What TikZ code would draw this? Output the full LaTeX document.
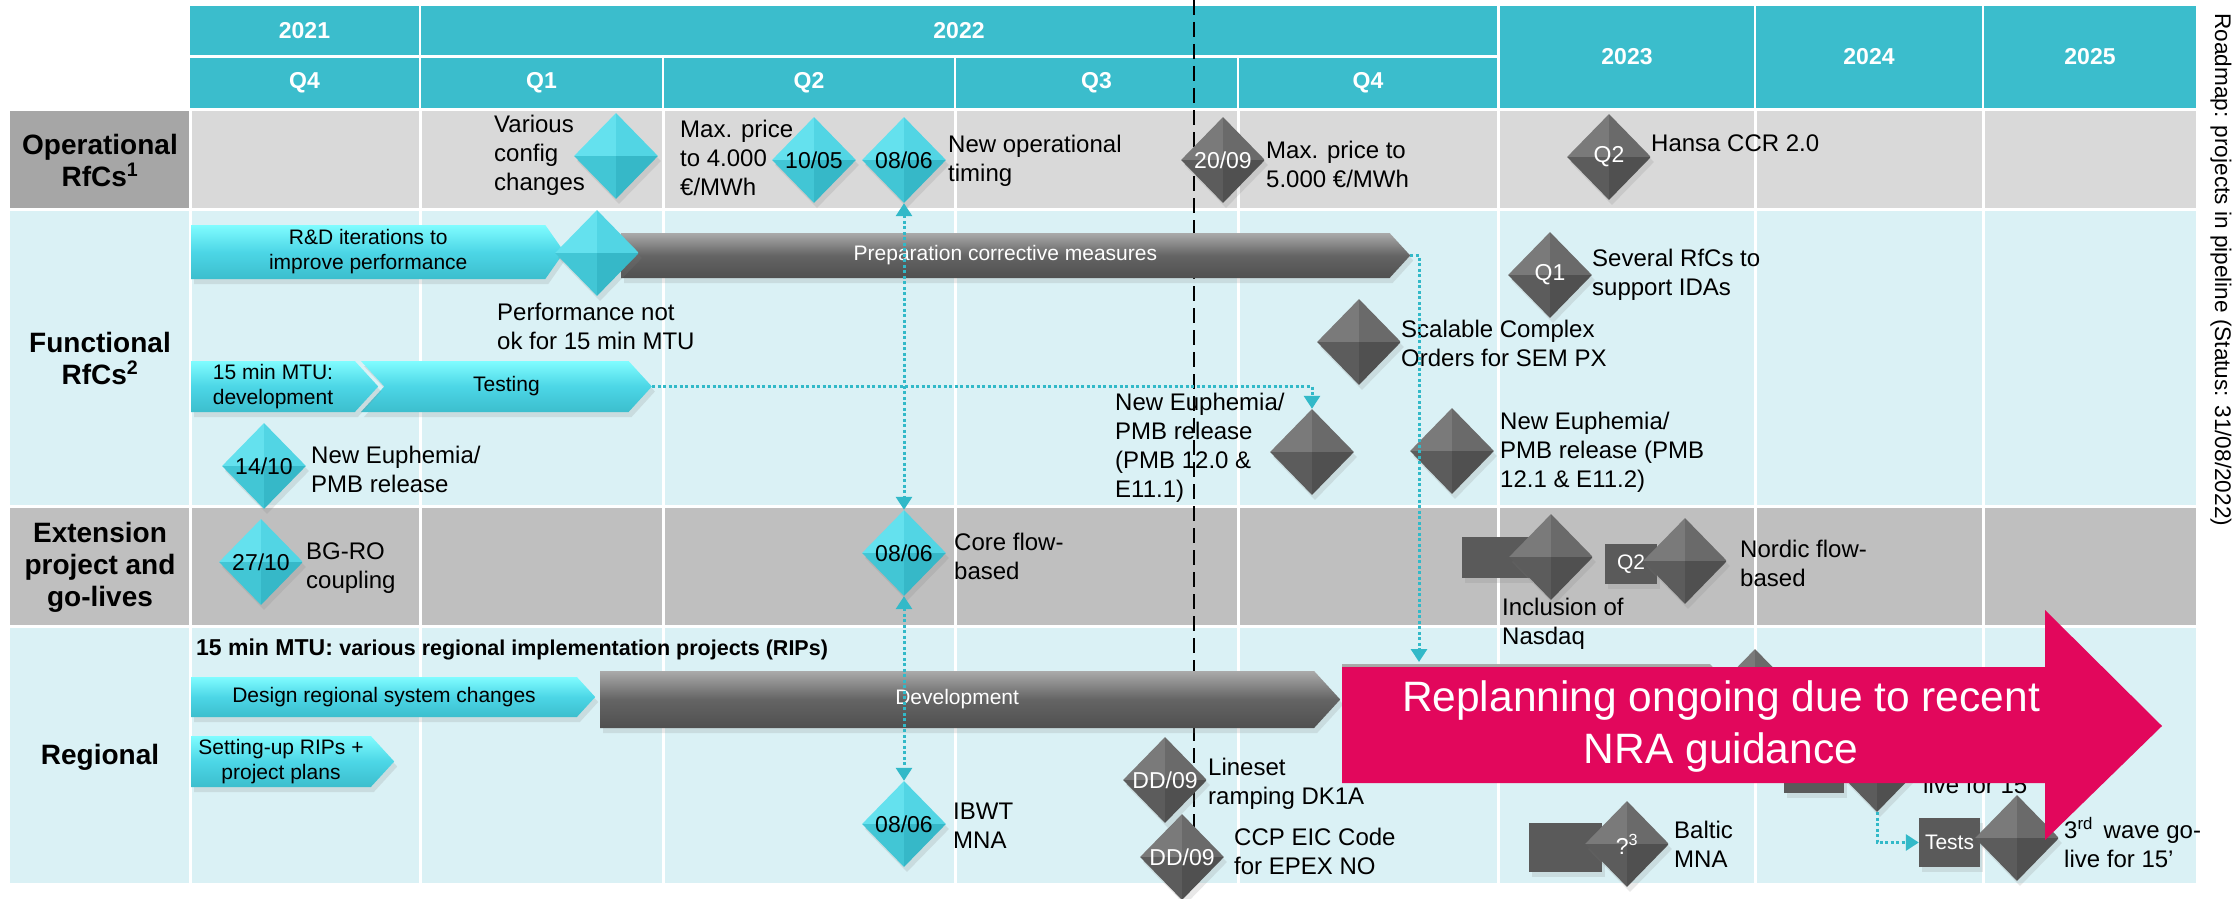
\documentclass[tikz,border=0pt]{standalone}
\usepackage{fontspec}
\setmainfont{Liberation Sans}
\usetikzlibrary{shapes.geometric,shapes.symbols,arrows.meta,shadows}

\definecolor{hdteal}{RGB}{59,189,204}
\definecolor{oprowc}{RGB}{217,217,217}
\definecolor{oplabc}{RGB}{166,166,166}
\definecolor{funrowc}{RGB}{218,241,245}
\definecolor{extrowc}{RGB}{191,191,191}
\definecolor{diacynw}{RGB}{100,225,238}
\definecolor{diacyne}{RGB}{82,213,228}
\definecolor{diacysw}{RGB}{66,198,213}
\definecolor{diacyse}{RGB}{54,184,200}
\definecolor{diagynw}{RGB}{122,122,122}
\definecolor{diagyne}{RGB}{106,106,106}
\definecolor{diagysw}{RGB}{92,92,92}
\definecolor{diagyse}{RGB}{80,80,80}
\definecolor{barcyhi}{RGB}{128,252,255}
\definecolor{barcymid}{RGB}{76,214,230}
\definecolor{barcylo}{RGB}{60,190,205}
\definecolor{bargyhi}{RGB}{170,170,170}
\definecolor{bargymid}{RGB}{100,100,100}
\definecolor{bargylo}{RGB}{80,80,80}
\definecolor{boxgy}{RGB}{90,90,90}
\definecolor{linkcy}{RGB}{50,185,200}
\definecolor{nramag}{RGB}{226,7,92}

\begin{document}
\begin{tikzpicture}[x=1pt,y=-1pt,
  hcell/.style={rectangle,fill=hdteal,text=white,inner sep=0pt,font=\fontsize{23}{27}\selectfont\bfseries},
  rowlbl/.style={align=center,inner sep=0pt,font=\fontsize{28}{32}\selectfont\bfseries},
  lbl/.style={anchor=west,align=left,inner sep=0pt,font=\fontsize{24}{29}\selectfont},
  soft/.style={drop shadow={opacity=0.18,shadow xshift=3pt,shadow yshift=-5pt}},
  dia/.style={diamond,minimum width=84pt,minimum height=86pt,inner sep=0pt,soft,font=\fontsize{23}{23}\selectfont},
  cdia/.style={dia,path picture={
      \fill[diacynw] (path picture bounding box.north west) rectangle (path picture bounding box.center);
      \fill[diacyne] (path picture bounding box.north east) rectangle (path picture bounding box.center);
      \fill[diacysw] (path picture bounding box.south west) rectangle (path picture bounding box.center);
      \fill[diacyse] (path picture bounding box.south east) rectangle (path picture bounding box.center);}},
  gdia/.style={dia,text=white,path picture={
      \fill[diagynw] (path picture bounding box.north west) rectangle (path picture bounding box.center);
      \fill[diagyne] (path picture bounding box.north east) rectangle (path picture bounding box.center);
      \fill[diagysw] (path picture bounding box.south west) rectangle (path picture bounding box.center);
      \fill[diagyse] (path picture bounding box.south east) rectangle (path picture bounding box.center);}},
  bar/.style={signal,signal to=east,signal pointer angle=95,anchor=west,inner sep=0pt,align=center,soft,
    font=\fontsize{21}{25}\selectfont},
  cbar/.style={bar,top color=barcyhi,bottom color=barcylo,middle color=barcymid},
  gbar/.style={bar,text=white,top color=bargyhi,bottom color=bargylo,middle color=bargymid},
  gbox/.style={rectangle,inner sep=0pt,fill=boxgy,soft,text=white,font=\fontsize{21}{21}\selectfont},
  link/.style={draw=linkcy,line width=3pt,dash pattern=on 3pt off 2.5pt,-{Triangle[width=16pt,length=13pt]}},
  link2/.style={link,{Triangle[width=16pt,length=13pt]}-{Triangle[width=16pt,length=13pt]}}]

\useasboundingbox (0,0) rectangle (2236,899);

% rows and grid
\fill[oplabc] (10,111) rectangle (189,208);
\fill[oprowc] (190,111) rectangle (2196,208);
\fill[funrowc] (10,211) rectangle (2196,505);
\fill[extrowc] (10,508) rectangle (2196,625);
\fill[funrowc] (10,628) rectangle (2196,883);
\foreach \gx in {190,420,663,955,1238,1498,1755,1983}
  \draw[white,line width=3pt] (\gx,108) -- (\gx,883);

% header
\node[hcell,minimum width=229pt,minimum height=49pt] (y2021) at (304.5,30.5) {2021};
\node[hcell,minimum width=1076pt,minimum height=49pt] (y2022) at (959,30.5) {2022};
\node[hcell,minimum width=229pt,minimum height=50pt] (q4a) at (304.5,83) {Q4};
\node[hcell,minimum width=241pt,minimum height=50pt] (q1) at (541.5,83) {Q1};
\node[hcell,minimum width=290pt,minimum height=50pt] (q2) at (809,83) {Q2};
\node[hcell,minimum width=281pt,minimum height=50pt] (q3) at (1096.5,83) {Q3};
\node[hcell,minimum width=258pt,minimum height=50pt] (q4b) at (1368,83) {Q4};
\node[hcell,minimum width=254pt,minimum height=102pt] (y2023) at (1627,57) {2023};
\node[hcell,minimum width=226pt,minimum height=102pt] (y2024) at (1869,57) {2024};
\node[hcell,minimum width=212pt,minimum height=102pt] (y2025) at (2090,57) {2025};

\node[rotate=-90,anchor=west,inner sep=0pt,font=\fontsize{22.6}{25}\selectfont] (status) at (2221,13)
  {Roadmap: projects in pipeline (Status: 31/08/2022)};

% row labels
\node[rowlbl] (oplab) at (100,160) {Operational\\RfCs\textsuperscript{1}};
\node[rowlbl] (funlab) at (100,358) {Functional\\RfCs\textsuperscript{2}};
\node[rowlbl] (extlab) at (100,567) {Extension\\project and\\go-lives};
\node[rowlbl] (reglab) at (100,757) {Regional};

% today line
\draw[black,line width=2.5pt,dash pattern=on 15pt off 7pt] (1194,0) -- (1194,887);

% bars
\node[cbar,signal pointer angle=110,minimum width=373pt,minimum height=54pt] (rnd) at (191,252)
  {R\&D iterations to\\improve performance};
\node[gbar,minimum width=789pt,minimum height=45pt] (prep) at (621,255.5) {Preparation corrective measures};
\node[cbar,signal from=west,minimum width=291pt,minimum height=51pt] (tst) at (384,386.5) {Testing};
\node[cbar,minimum width=187pt,minimum height=51pt] (mtu) at (191,386.5) {15 min MTU:\\development};
\node[cbar,minimum width=404pt,minimum height=40pt] (design) at (191,697) {Design regional system changes};
\node[gbar,minimum width=740pt,minimum height=57pt] (dev) at (600,699.5) {Development};
\node[cbar,minimum width=203pt,minimum height=51pt] (setup) at (191,761.5) {Setting-up RIPs +\\project plans};
\node[gbar,minimum width=398pt,minimum height=66pt] (dev2) at (1342,697) {};

% boxes
\node[gbox,minimum width=68pt,minimum height=41pt] (bnasdaq) at (1496,557.5) {};
\node[gbox,minimum width=52pt,minimum height=40pt] (bnordic) at (1631,564) {Q2};
\node[gbox,minimum width=73pt,minimum height=49pt] (bbaltic) at (1565.5,847.5) {};
\node[gbox,minimum width=60pt,minimum height=48pt] (bw2) at (1814,769) {};
\node[gbox,minimum width=61pt,minimum height=49pt] (tests) at (1949.5,842.5) {Tests};

% milestones
\node[cdia] (dvcc) at (616,156) {};
\node[cdia] (d1005) at (814,160) {10/05};
\node[cdia] (d0806a) at (904,160) {08/06};
\node[gdia] (d2009) at (1223,160) {20/09};
\node[gdia] (dhansa) at (1609,157) {Q2};
\node[cdia] (dperf) at (597,253) {};
\node[gdia] (dscal) at (1359,342) {};
\node[gdia] (dida) at (1550,275) {Q1};
\node[gdia] (deu120) at (1312,452) {};
\node[gdia] (deu121) at (1452,451) {};
\node[cdia] (d1410) at (264,466) {14/10};
\node[cdia] (d2710) at (261,562) {27/10};
\node[cdia] (d0806b) at (904,553) {08/06};
\node[gdia] (dnasdaq) at (1551,557) {};
\node[gdia] (dnordic) at (1685,561) {};
\node[cdia] (d0806c) at (904,824) {08/06};
\node[gdia] (ddk1a) at (1165,780) {DD/09};
\node[gdia] (depex) at (1182,857) {DD/09};
\node[gdia] (dbaltic) at (1627,844) {?\textsuperscript{3}};
\node[gdia] (dw2a) at (1755,692) {};
\node[gdia] (dw2b) at (1877,769) {};
\node[gdia] (dw3) at (2017,838) {};

% labels
\node[lbl] (tvcc) at (494,155) {Various\\config\\changes};
\node[lbl] (tmp4) at (680,158) {Max. price\\to 4.000\\€/MWh};
\node[lbl] (tnot) at (948,161) {New operational\\timing};
\node[lbl] (tmp5) at (1266,164) {Max. price to\\5.000 €/MWh};
\node[lbl] (thansa) at (1651,143) {Hansa CCR 2.0};
\node[lbl] (tperf) at (497,326) {Performance not\\ok for 15 min MTU};
\node[lbl] (tscal) at (1401,343) {Scalable Complex\\Orders for SEM PX};
\node[lbl] (tida) at (1592,275) {Several RfCs to\\support IDAs};
\node[lbl] (teu120) at (1115,448) {New Euphemia/\\PMB release\\(PMB 12.0 \&\\E11.1)};
\node[lbl] (teu121) at (1500,452) {New Euphemia/\\PMB release (PMB\\12.1 \& E11.2)};
\node[lbl] (t1410) at (311,469) {New Euphemia/\\PMB release};
\node[lbl] (tbgro) at (306,568) {BG-RO\\coupling};
\node[lbl] (tcore) at (954,556) {Core flow-\\based};
\node[lbl] (tnasdaq) at (1502,624) {Inclusion of\\Nasdaq};
\node[lbl] (tnordic) at (1740,563) {Nordic flow-\\based};
\node[lbl] (tibwt) at (953,826) {IBWT\\MNA};
\node[lbl] (tdk1a) at (1208,784) {Lineset\\ramping DK1A};
\node[lbl] (tepex) at (1234,851) {CCP EIC Code\\for EPEX NO};
\node[lbl] (tbaltic) at (1674,844) {Baltic\\MNA};
\node[lbl,anchor=base west] (tw2) at (1923,793) {live for 15’};
\node[lbl] (tw3) at (2064,843) {3\textsuperscript{rd}\, wave go-\\live for 15’};
\node[anchor=west,inner sep=0pt] (trip) at (196,649)
  {\fontsize{23}{26}\selectfont\bfseries 15 min MTU: \fontsize{21.5}{26}\selectfont various regional implementation projects (RIPs)};

% links
\coordinate (devin) at (1419,662);
\draw[link] (tst.east) -| (deu120.north);
\draw[link] (prep.east) -| (devin);
\draw[link2] (d0806a.south) -- (d0806b.north);
\draw[link2] (d0806b.south) -- (d0806c.north);
\draw[link] (dw2b.south) |- (tests.west);

% replanning arrow
\fill[nramag] (1342,667) -- (2045,667) -- (2045,610) -- (2162,726) -- (2045,840) -- (2045,783) -- (1342,783) -- cycle;
\node[align=center,text=white,inner sep=0pt,font=\fontsize{42.5}{52}\selectfont] (nra) at (1721,727)
  {Replanning ongoing due to recent\\NRA guidance};
\end{tikzpicture}
\end{document}
